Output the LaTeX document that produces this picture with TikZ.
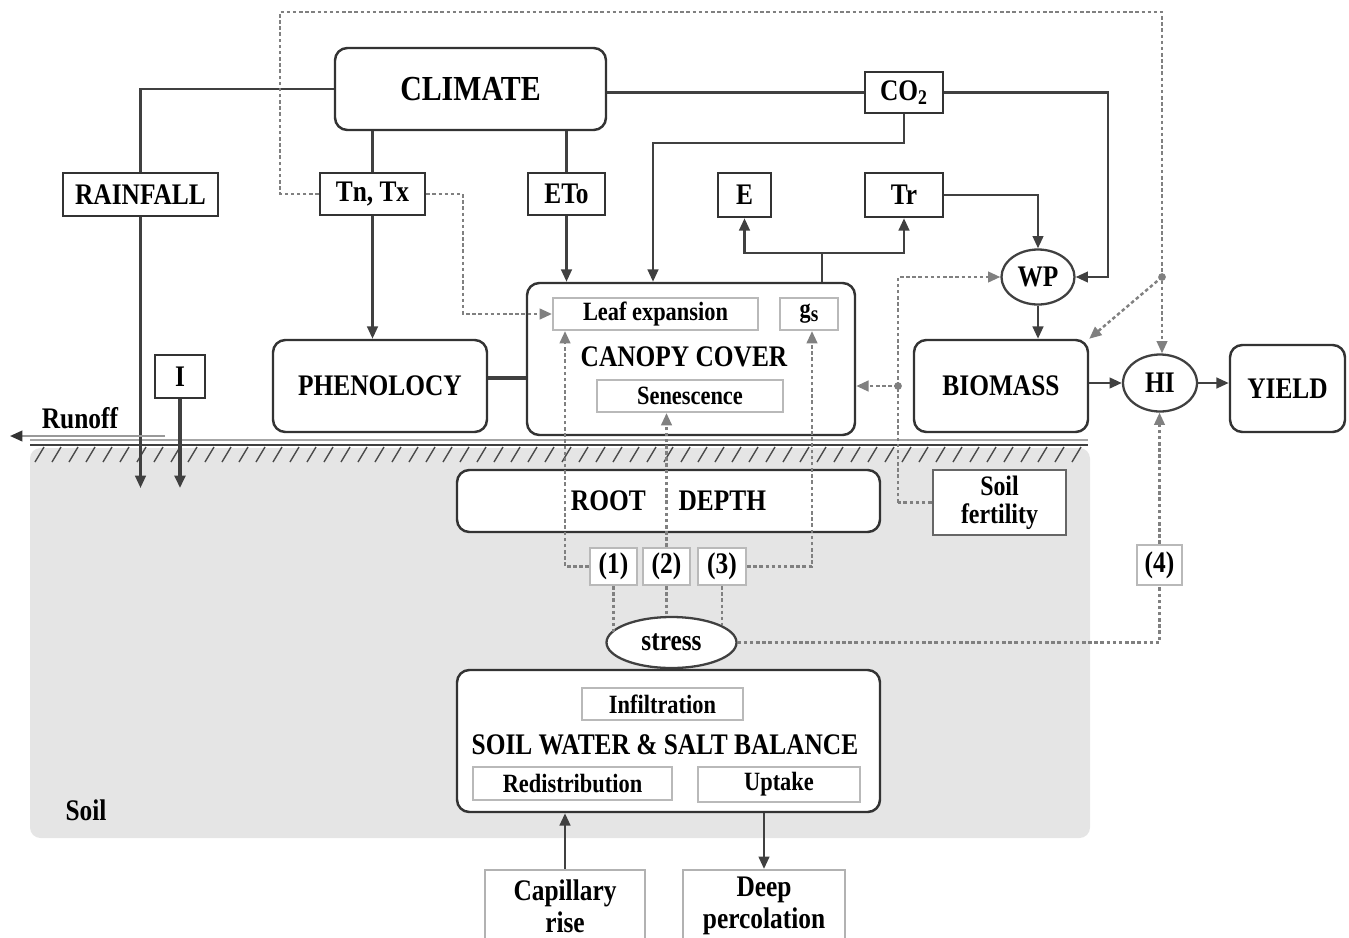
\documentclass[tikz,border=0pt]{standalone}
\usepackage{fontspec}
\setmainfont[FakeStretch=0.85]{Liberation Serif}
\usetikzlibrary{arrows.meta,shapes.geometric}
\newcommand{\fmain}{\fontsize{17}{18}\selectfont\bfseries}
\newcommand{\fclim}{\fontsize{20}{22}\selectfont\bfseries}
\newcommand{\fsmall}{\fontsize{15}{16}\selectfont\bfseries}
\tikzset{
  sz/.style 2 args={minimum width=#1*0.02cm, minimum height=#2*0.02cm, inner sep=0pt},
  rbox/.style={draw=black!80, line width=1.4pt, fill=white, rounded corners=7pt, font=\fmain},
  sbox/.style={draw=black!80, line width=1.4pt, fill=white, font=\fmain},
  ibox/.style={draw=gray!55, line width=1.2pt, fill=white, font=\fsmall},
  lbox/.style={draw=gray!60, line width=1.2pt, fill=white, font=\fmain, align=center},
  circ/.style={ellipse, draw=black!75, line width=1.3pt, fill=white, font=\fmain, inner sep=0pt},
  conn/.style={draw=black!75, line width=1.4pt},
  arr/.style={conn, -{Triangle[length=7pt,width=6pt]}},
  dotl/.style={draw=gray, line width=1.4pt, dash pattern=on 2pt off 1.5pt},
  darr/.style={dotl, -{Triangle[length=7pt,width=6pt]}},
  plain/.style={font=\fmain, inner sep=0pt}
}
\begin{document}
\begin{tikzpicture}[x=0.02cm,y=-0.02cm]
\useasboundingbox (0,0) rectangle (1349,937);
% soil region and ground
\fill[gray!20, rounded corners=6pt] (30,448) rectangle (1090,838);
\draw[gray!70, line width=1pt] (30,440) -- (1088,440);
\draw[black!75, line width=1.3pt] (30,445) -- (1088,445);
\foreach \x in {35,52,...,1075} \draw[black!70, line width=0.8pt] (\x,462) -- (\x+9,447);

% nodes
\node[rbox, sz={271}{82}, font=\fclim] (climate) at (470.5,89) {CLIMATE};
\node[sbox, sz={78}{41}] (co2) at (904,92.5) {CO\textsubscript{2}};
\node[sbox, sz={155}{43}] (rain) at (140.5,194.5) {RAINFALL};
\node[sbox, sz={105}{42}] (tn) at (372.5,194) {Tn, Tx};
\node[sbox, sz={77}{42}] (eto) at (566.5,194) {ETo};
\node[sbox, sz={53}{44}] (e) at (744.5,195) {E};
\node[sbox, sz={78}{44}] (tr) at (904,195) {Tr};
\node[circ, sz={73}{55}] (wp) at (1038,277) {WP};
\node[rbox, sz={328}{152}] (canopy) at (691,359) {};
\node[ibox, sz={205}{32}] (leaf) at (655.5,314) {Leaf expansion};
\node[ibox, sz={58}{32}] (gs) at (809,314) {g{\fontsize{13}{13}\selectfont\raisebox{-0.3ex}{s}}};
\node[plain] (cctext) at (684,357) {CANOPY COVER};
\node[ibox, sz={186}{32}] (senes) at (690,396) {Senescence};
\node[rbox, sz={214}{92}] (phen) at (380,386) {PHENOLOCY};
\node[rbox, sz={174}{92}] (biomass) at (1001,386) {BIOMASS};
\node[circ, sz={74}{57}] (hi) at (1160,383) {HI};
\node[rbox, sz={115}{87}] (yield) at (1287.5,388.5) {YIELD};
\node[sbox, sz={50}{43}] (irr) at (180,376.5) {I};
\node[plain] (runoff) at (80,418) {Runoff};
\node[plain] (soil) at (86,810) {Soil};
\node[rbox, sz={423}{62}] (root) at (668.5,501) {ROOT\hspace{1.1em}DEPTH};
\node[sbox, draw=black!60, line width=1.6pt, sz={133}{65}, align=center, font=\fontsize{16}{16}\selectfont\bfseries] (sfert) at (999.5,502.5) {Soil\\fertility};
\node[ibox, font=\fmain, sz={47}{37}] (s1) at (613.5,566.5) {(1)};
\node[ibox, font=\fmain, sz={47}{37}] (s2) at (666.5,566.5) {(2)};
\node[ibox, font=\fmain, sz={48}{37}] (s3) at (722,566.5) {(3)};
\node[ibox, font=\fmain, sz={45}{40}] (s4) at (1159.5,565) {(4)};
\node[circ, sz={130}{51}, font=\fmain] (stress) at (671.5,642.5) {stress};
\node[rbox, sz={423}{142}] (swb) at (668.5,741) {};
\node[ibox, sz={161}{32}] (infil) at (662.5,704) {Infiltration};
\node[plain] (swbtext) at (665,745) {SOIL WATER \& SALT BALANCE};
\node[ibox, sz={199}{33}] (redis) at (572.5,783.5) {Redistribution};
\node[ibox, sz={162}{35}] (uptake) at (779,784.5) {Uptake};
\node[lbox, sz={160}{72}] (cap) at (565,906) {Capillary\\rise};
\node[lbox, sz={162}{72}] (deep) at (764,906) {Deep\\percolation};

% solid connectors
\draw[conn] (climate.west) -| (rain.north);
\draw[conn] (climate.east |- co2.west) -- (co2.west);
\draw[arr] (co2.east) -- (1108,0 |- co2.east) |- (wp.east);
\draw[arr] (co2.south) -- (co2.south |- 0,143) -| (653,0 |- canopy.north);
\draw[conn] (tn.north |- climate.south) -- (tn.north);
\draw[arr] (tn.south) -- (tn.south |- phen.north);
\draw[conn] (eto.north |- climate.south) -- (eto.north);
\draw[arr] (eto.south) -- (eto.south |- canopy.north);
\draw[arr] (rain.south) -- (rain.south |- 0,488);
\draw[arr, line width=1.8pt] (irr.south) -- (irr.south |- 0,488);
\coordinate (ro) at (165,436);
\draw[gray!80, line width=1.2pt, -{Triangle[length=7pt,width=6pt,color=black!80]}] (ro) -- (ro -| 10,0);
\draw[conn, line width=2.2pt] (phen.east |- 0,378) -- (canopy.west |- 0,378);
\coordinate (et) at (822,253);
\draw[conn] (et |- canopy.north) -- (et);
\draw[arr] (et) -| (e.south);
\draw[arr] (et) -| (tr.south);
\draw[arr] (tr.east) -| (wp.north);
\draw[arr] (wp.south) -- (wp.south |- biomass.north);
\draw[arr] (hi.west -| biomass.east) -- (hi.west);
\draw[arr] (hi.east) -- (hi.east -| yield.west);
\draw[arr] (cap.north) -- (cap.north |- swb.south);
\draw[arr] (deep.north |- swb.south) -- (deep.north);

% dotted connectors
\coordinate (tl) at (280,12);
\coordinate (tre) at (1162,12);
\draw[darr] (tn.west) -| (tl) -- (tre) -- (tre |- hi.north);
\coordinate (hij) at (1162,277);
\fill[gray] (hij) circle (2.2pt);
\draw[darr] (hij) -- (biomass.north east);
\draw[darr] (tn.east) -- (463,0 |- tn.east) |- (leaf.west);
\coordinate (sf) at (898,502.5);
\draw[dotl] (sfert.west) -- (sf);
\draw[darr] (sf) |- (wp.west);
\coordinate (cj) at (898,386);
\fill[gray] (cj) circle (2.2pt);
\draw[darr] (cj) -- (canopy.east |- cj);
\draw[darr] (s1.west) -- (565,0 |- s1.west) -- (565,0 |- leaf.south);
\draw[darr] (s2.north) -- (s2.north |- senes.south);
\draw[darr] (s3.east) -- (812,0 |- s3.east) -- (812,0 |- gs.south);
\draw[dotl] (s1.south) -- (s1.south |- stress.170);
\draw[dotl] (s2.south) -- (s2.south |- stress.north);
\draw[dotl] (s3.south) -- (s3.south |- stress.20);
\draw[dotl] (stress.east) -| (s4.south);
\draw[darr] (s4.north) -- (s4.north |- hi.south);
\end{tikzpicture}
\end{document}
